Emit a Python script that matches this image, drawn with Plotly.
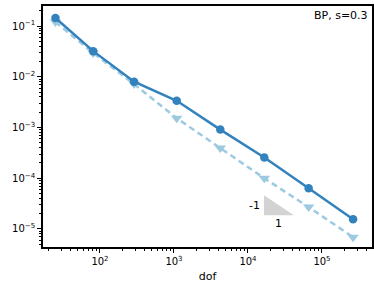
import plotly.graph_objects as go
import numpy as np

dof = [25, 81, 289, 1089, 4225, 16641, 66049, 263169]
err_circle = [0.144, 0.032, 0.0080, 0.00336, 0.00091, 0.000256, 6.35e-5, 1.55e-5]
err_tri = [0.12, 0.0293, 0.00718, 0.00153, 0.000393, 1.0e-4, 2.7e-5, 6.9e-6]

x_tickvals = [1e2, 1e3, 1e4, 1e5]
x_ticktext = ["10<sup>2</sup>", "10<sup>3</sup>", "10<sup>4</sup>", "10<sup>5</sup>"]
y_tickvals = [1e-1, 1e-2, 1e-3, 1e-4, 1e-5]
y_ticktext = ["10<sup>−1</sup>", "10<sup>−2</sup>", "10<sup>−3</sup>", "10<sup>−4</sup>", "10<sup>−5</sup>"]

slope_x = [10**4.216, 10**4.216, 10**4.62, 10**4.216]
slope_y = [10**-4.335, 10**-4.73, 10**-4.73, 10**-4.335]

x_minor = [m * 10.0**e for e in range(1, 6) for m in range(2, 10)]
y_minor = [m * 10.0**e for e in range(-6, 0) for m in range(2, 10)]

c1 = "#3182bd"
c2 = "#9ecae1"

fig = go.Figure()
fig.add_trace(go.Scatter(x=slope_x, y=slope_y, mode="lines", fill="toself",
                         fillcolor="#d3d3d3", line=dict(width=0, color="#d3d3d3"),
                         hoverinfo="skip", showlegend=False))
fig.add_trace(go.Scatter(x=dof, y=err_tri, mode="lines+markers",
                         line=dict(color=c2, width=2.5, dash="6px,4px"),
                         marker=dict(symbol="triangle-down", size=10, color=c2),
                         showlegend=False))
fig.add_trace(go.Scatter(x=dof, y=err_circle, mode="lines+markers",
                         line=dict(color=c1, width=2.5),
                         marker=dict(symbol="circle", size=8.5, color=c1),
                         showlegend=False))

fig.add_annotation(x=4.216, y=-4.53, text="-1", showarrow=False,
                   xanchor="right", xshift=-2, font=dict(size=11, color="black"))
fig.add_annotation(x=4.418, y=-4.73, text="1", showarrow=False,
                   yanchor="top", yshift=0, font=dict(size=11, color="black"))
fig.add_annotation(xref="paper", yref="paper", x=0.995, y=0.995, text="BP, s=0.3",
                   showarrow=False, xanchor="right", yanchor="top",
                   font=dict(size=11, color="black"))

axis_common = dict(showline=True, linecolor="black", linewidth=1.8, mirror=True,
                   ticks="outside", ticklen=4, tickwidth=1.2, tickcolor="black",
                   showgrid=False, zeroline=False, automargin=False,
                   tickfont=dict(size=10))

fig.update_xaxes(type="log", range=[1.23, 5.676], tickmode="array", tickvals=x_tickvals,
                 ticktext=x_ticktext,
                 minor=dict(tickmode="array", tickvals=x_minor, ticks="outside", ticklen=2.5,
                            tickwidth=1, tickcolor="black", showgrid=False),
                 title=dict(text="dof", standoff=6, font=dict(size=11)), **axis_common)
fig.update_yaxes(type="log", range=[-5.355, -0.605], tickmode="array", tickvals=y_tickvals,
                 ticktext=y_ticktext,
                 minor=dict(tickmode="array", tickvals=y_minor, ticks="outside", ticklen=2.5,
                            tickwidth=1, tickcolor="black", showgrid=False),
                 **axis_common)

fig.update_layout(width=374, height=290, margin=dict(l=43, r=2, t=6, b=43),
                  plot_bgcolor="white", paper_bgcolor="white",
                  font=dict(family="DejaVu Sans", size=11, color="black"))

fig.write_html("out.html", config={"displayModeBar": False},
               post_script="document.body.style.margin='0';")
